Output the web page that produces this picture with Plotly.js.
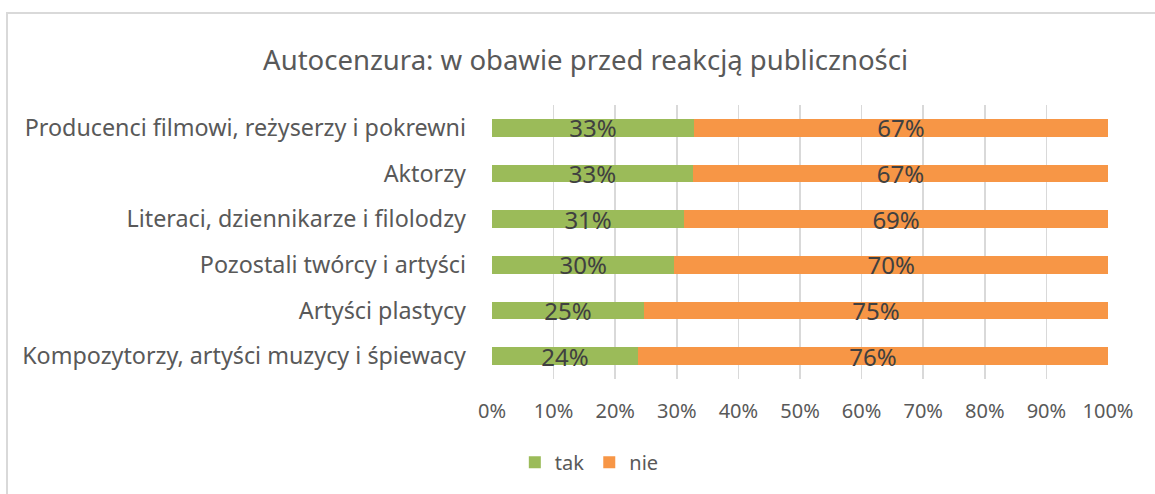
<!DOCTYPE html>
<html><head><meta charset="utf-8">
<script src="https://cdn.plot.ly/plotly-3.0.1.min.js"></script>
<style>
html,body{margin:0;padding:0;background:#fff;}
#wrap{position:relative;width:1155px;height:494px;overflow:hidden;}
#chart{position:absolute;left:0;top:0;width:1155px;height:494px;}
#border{position:absolute;left:6px;top:12px;width:1300px;height:700px;border:2px solid #d9d9d9;pointer-events:none;}
</style></head>
<body><div id="wrap"><div id="border"></div><div id="chart"></div></div>
<script>
const categories = [
  "Producenci filmowi, reżyserzy i pokrewni",
  "Aktorzy",
  "Literaci, dziennikarze i filolodzy",
  "Pozostali twórcy i artyści",
  "Artyści plastycy",
  "Kompozytorzy, artyści muzycy i śpiewacy"
];
const takValues = [32.8, 32.6, 31.2, 29.6, 24.7, 23.7];
const nieValues = [67.2, 67.4, 68.8, 70.4, 75.3, 76.3];
const xTickVals = [0,10,20,30,40,50,60,70,80,90,100];
const xTickText = ["0%","10%","20%","30%","40%","50%","60%","70%","80%","90%","100%"];

const FONT = "Noto Sans, DejaVu Sans, sans-serif";
const traces = [
  {type:'bar', orientation:'h', name:'tak', y:categories, x:takValues,
   marker:{color:'#9bbb59'}, texttemplate:'%{x:.0f}%', textposition:'inside', constraintext:'none',
   insidetextanchor:'middle', textfont:{family:FONT, size:24, color:'#404040'}, hoverinfo:'x+y'},
  {type:'bar', orientation:'h', name:'nie', y:categories, x:nieValues,
   marker:{color:'#f79646'}, texttemplate:'%{x:.0f}%', textposition:'inside', constraintext:'none',
   insidetextanchor:'middle', textfont:{family:FONT, size:24, color:'#404040'}, hoverinfo:'x+y'}
];
const layout = {
  width:1155, height:494,
  barmode:'stack', bargap:0.61,
  paper_bgcolor:'rgba(0,0,0,0)', plot_bgcolor:'rgba(0,0,0,0)',
  margin:{l:492, r:47, t:105.5, b:114.5},
  font:{family:FONT, color:'#595959', size:20},
  title:{text:'Autocenzura: w obawie przed reakcją publiczności', x:0.507, xanchor:'center', y:0.878, yanchor:'middle',
         font:{family:FONT, size:27.5, color:'#595959'}},
  xaxis:{range:[0,100], tickvals:xTickVals, ticktext:xTickText, showgrid:true, gridcolor:'#d9d9d9', gridwidth:1.5,
         zeroline:false, showline:false, ticks:'', ticklabelstandoff:18, tickfont:{size:20, color:'#595959'}, fixedrange:true},
  yaxis:{autorange:'reversed', showgrid:false, zeroline:false, showline:false, ticks:'', ticklabelstandoff:25,
         tickfont:{size:23.3, color:'#595959'}, fixedrange:true},
  showlegend:true,
  legend:{orientation:'h', x:0.158, xanchor:'center', y:-0.305, yanchor:'middle', font:{size:20, color:'#595959'},
          itemwidth:30, traceorder:'normal'}
};
Plotly.newPlot('chart', traces, layout, {displayModeBar:false, staticPlot:true});
</script></body></html>
